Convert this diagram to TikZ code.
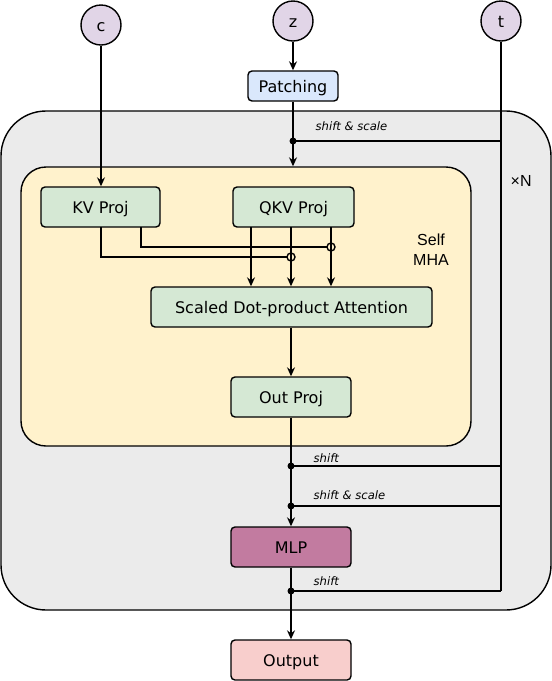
\documentclass[tikz,border=0pt]{standalone}
\usepackage{fontspec}
\setmainfont{DejaVu Sans}
\newfontfamily\arialfont{Liberation Sans}
\usetikzlibrary{arrows.meta}
\definecolor{cPurple}{HTML}{E1D5E7}
\definecolor{cBlue}{HTML}{DAE8FC}
\definecolor{cGreen}{HTML}{D5E8D4}
\definecolor{cYellow}{HTML}{FFF2CC}
\definecolor{cGray}{HTML}{EBEBEB}
\definecolor{cRed}{HTML}{F8CECC}
\definecolor{cMLP}{HTML}{C27BA0}
\begin{document}
\begin{tikzpicture}[x=1pt,y=-1pt,
  line width=1.4pt,
  arr/.style={-{Stealth[length=9pt,width=8pt,inset=3pt]}},
  box/.style={draw, rounded corners=4pt, font=\fontsize{16}{19}\selectfont, inner sep=0pt, text height=13.8pt, text depth=0pt},
  inp/.style={draw, circle, fill=cPurple, minimum size=40pt, inner sep=0pt, font=\fontsize{16}{19}\selectfont, text height=13pt, text depth=0pt},
  lbl/.style={font=\fontsize{11.6}{13}\selectfont\itshape, anchor=west, inner sep=0pt},
  dot/.style={circle, fill=black, inner sep=0pt, minimum size=7pt},
  txt/.style={font=\arialfont\fontsize{16}{20}\selectfont, inner sep=0pt, align=center}]
\useasboundingbox (0,0) rectangle (552,681);
% containers
\node[draw, fill=cGray, rounded corners=45pt, minimum width=550pt, minimum height=499pt] (blk) at (276,360.5) {};
\node[draw, fill=cYellow, rounded corners=25pt, minimum width=450pt, minimum height=279pt] (mha) at (246,306.5) {};
% inputs
\node[inp] (c) at (101,25) {c};
\node[inp] (z) at (293,21) {z};
\node[inp] (t) at (501,21) {t};
% boxes
\node[box, fill=cBlue, minimum width=90pt, minimum height=30pt] (patch) at (293,86) {Patching};
\node[box, fill=cGreen, minimum width=119pt, minimum height=40pt] (kv) at (100.5,207) {KV Proj};
\node[box, fill=cGreen, minimum width=121pt, minimum height=40pt] (qkv) at (293.5,207) {QKV Proj};
\node[box, fill=cGreen, minimum width=281pt, minimum height=40pt] (sdpa) at (291.5,307) {Scaled Dot-product Attention};
\node[box, fill=cGreen, minimum width=120pt, minimum height=40pt] (out) at (291,397) {Out Proj};
\node[box, fill=cMLP, minimum width=120pt, minimum height=40pt] (mlp) at (291,547) {MLP};
\node[box, fill=cRed, minimum width=120pt, minimum height=40pt] (output) at (291,660) {Output};
% labels
\node[txt] (selfmha) at (431,250) {Self\\MHA};
\node[txt, anchor=base west] (xn) at (510,186) {×N};
\node[lbl] (l0) at (315,126) {shift \& scale};
\node[lbl] (l1) at (313,458) {shift};
\node[lbl] (l2) at (313,495) {shift \& scale};
\node[lbl] (l3) at (313,581) {shift};
% junctions
\node[dot] (d0) at (293,141) {};
\node[dot] (d1) at (291,466) {};
\node[dot] (d2) at (291,506) {};
\node[dot] (d3) at (291,591) {};
\coordinate (t0) at (501,141);
\coordinate (t1) at (501,466);
\coordinate (t2) at (501,506);
\coordinate (t3) at (501,591);
% connectors
\draw[arr] (c.south) -- (c.south |- kv.north);
\draw[arr] (z.south) -- (patch.north);
\draw[arr] (patch.south) -- (d0.center) -- (patch.south |- mha.north);
\draw (t.south) -- (t3);
\draw (t0) -- (d0.center);
\draw (t1) -- (d1.center);
\draw (t2) -- (d2.center);
\draw (t3) -- (d3.center);
\coordinate (q1) at (251,227);
\coordinate (q2) at (291,227);
\coordinate (q3) at (331,227);
\draw[arr] (q1) -- (q1 |- sdpa.north);
\draw[arr] (q2) -- (q2 |- sdpa.north);
\draw[arr] (q3) -- (q3 |- sdpa.north);
\coordinate (k1) at (101,227);
\coordinate (k2) at (141,227);
\coordinate (h1) at (291,257);
\coordinate (h2) at (331,247);
\draw (k1) |- ([xshift=-4pt]h1);
\draw (k2) |- ([xshift=-4pt]h2);
\draw (h1) circle[radius=4pt];
\draw (h2) circle[radius=4pt];
\draw[arr] (sdpa.south -| out.north) -- (out.north);
\draw[arr] (out.south) -- (mlp.north);
\draw[arr] (mlp.south) -- (output.north);
\end{tikzpicture}
\end{document}
